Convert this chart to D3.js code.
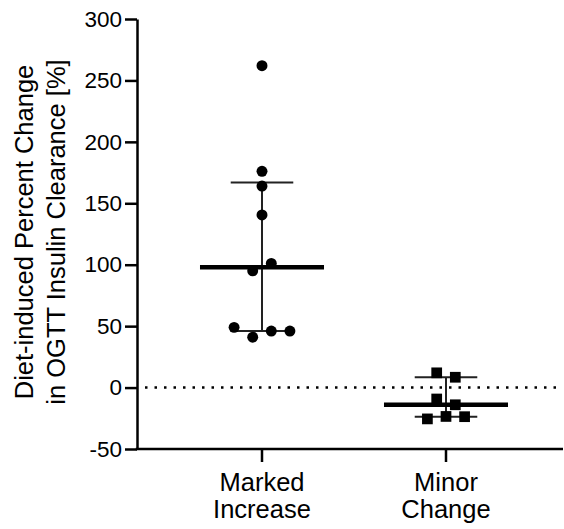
<!DOCTYPE html>
<html>
<head>
<meta charset="utf-8">
<script src="https://cdn.jsdelivr.net/npm/d3@7"></script>
<style>
  body { margin: 0; background: #fff; }
  svg { display: block; font-family: "Liberation Sans", Arial, sans-serif; }
</style>
</head>
<body>
<svg id="chart" width="564" height="529"></svg>
<script>
// groups and values
const groups = ["Marked Increase", "Minor Change"];
const markedIncrease = [262, 176, 164, 140.5, 95, 101, 49, 41, 46, 46];
const minorChange = [12, 8.4, -9.3, -14, -25.5, -23.5, -23.7];
const yTicks = [-50, 0, 50, 100, 150, 200, 250, 300];

const svg = d3.select("#chart");
const symbolSize = 10;

const y = d3.scaleLinear().domain([-50, 300]).range([449, 19]);
const x = d3.scaleBand().domain(groups).range([170, 538]);
const axisX = 137,
  axisRight = 563;

// GraphPad style percentile (n+1 method)
function pct(sorted, p) {
  const n = sorted.length;
  const pos = p * (n + 1);
  const lo = Math.floor(pos);
  if (lo < 1) return sorted[0];
  if (lo >= n) return sorted[n - 1];
  return sorted[lo - 1] + (pos - lo) * (sorted[lo] - sorted[lo - 1]);
}

// put points that overlap in one row, spread them around the centre
function swarm(values) {
  const idx = d3.range(values.length).sort((a, b) => values[a] - values[b]);
  const rows = [];
  idx.forEach((i) => {
    const row = rows[rows.length - 1];
    if (row && Math.abs(y(values[i]) - y(values[row[0]])) < symbolSize) row.push(i);
    else rows.push([i]);
  });
  const off = [];
  rows.forEach((row) => {
    row.sort((a, b) => a - b);
    row.forEach((i, k) => (off[i] = (k - (row.length - 1) / 2) * 18.6));
  });
  return off;
}

// zero line
svg
  .append("line")
  .attr("x1", axisX + 8)
  .attr("x2", axisRight)
  .attr("y1", y(0))
  .attr("y2", y(0))
  .attr("stroke", "#000")
  .attr("stroke-width", 2.5)
  .attr("stroke-dasharray", "2.5,7");

const series = [
  { name: groups[0], values: markedIncrease, symbol: d3.symbolCircle },
  { name: groups[1], values: minorChange, symbol: d3.symbolSquare },
];

series.forEach((s) => {
  const cx = x(s.name) + x.bandwidth() / 2;
  const sorted = s.values.slice().sort((a, b) => a - b);
  const q1 = pct(sorted, 0.25),
    med = pct(sorted, 0.5),
    q3 = pct(sorted, 0.75);
  const g = svg.append("g");
  const capW = x.bandwidth() * 0.17,
    medW = x.bandwidth() * 0.337;

  g.append("line")
    .attr("x1", cx)
    .attr("x2", cx)
    .attr("y1", y(q1))
    .attr("y2", y(q3))
    .attr("stroke", "#222")
    .attr("stroke-width", 2);

  [q1, q3].forEach((q) => {
    g.append("line")
      .attr("x1", cx - capW)
      .attr("x2", cx + capW)
      .attr("y1", y(q))
      .attr("y2", y(q))
      .attr("stroke", "#222")
      .attr("stroke-width", 2);
  });

  const off = swarm(s.values);
  const sym = d3
    .symbol()
    .type(s.symbol)
    .size(s.symbol === d3.symbolCircle ? Math.PI * 30 : 115);
  g.selectAll("path.pt")
    .data(s.values)
    .join("path")
    .attr("class", "pt")
    .attr("d", sym)
    .attr("transform", (d, i) => `translate(${cx + off[i]},${y(d)})`)
    .attr("fill", "#000");

  g.append("line")
    .attr("x1", cx - medW)
    .attr("x2", cx + medW)
    .attr("y1", y(med))
    .attr("y2", y(med))
    .attr("stroke", "#000")
    .attr("stroke-width", 4.5);
});

// y axis
const yAxis = svg
  .append("g")
  .attr("transform", `translate(${axisX},0)`)
  .call(
    d3
      .axisLeft(y)
      .tickValues(yTicks)
      .tickFormat((d) => String(d))
      .tickSize(12)
      .tickSizeOuter(0)
      .tickPadding(3)
  );
yAxis.selectAll("path, line").attr("stroke", "#000").attr("stroke-width", 2.5);
yAxis.selectAll("text").attr("font-size", 22.5).attr("fill", "#000").attr("font-family", null);

// x axis
const xAxis = svg
  .append("g")
  .attr("transform", `translate(0,${y(-50)})`)
  .call(d3.axisBottom(x).tickSize(13).tickSizeOuter(0).tickFormat(""));
xAxis.select("path").attr("d", `M${axisX - 1.25},0H${axisRight}`);
xAxis.selectAll("path, line").attr("stroke", "#000").attr("stroke-width", 2.5);

groups.forEach((name) => {
  const t = svg
    .append("text")
    .attr("text-anchor", "middle")
    .attr("font-size", 25.5)
    .attr("fill", "#000");
  name.split(" ").forEach((w, i) => {
    t.append("tspan")
      .attr("x", x(name) + x.bandwidth() / 2)
      .attr("y", 491 + i * 27)
      .text(w);
  });
});

// y title
const title = svg
  .append("text")
  .attr("transform", "rotate(-90)")
  .attr("text-anchor", "middle")
  .attr("font-size", 25.5)
  .attr("fill", "#000");
["Diet-induced Percent Change", "in OGTT Insulin Clearance [%]"].forEach((line, i) => {
  title
    .append("tspan")
    .attr("x", -(y(-50) + y(300)) / 2 + 2)
    .attr("y", 33 + i * 32)
    .text(line);
});
</script>
</body>
</html>
